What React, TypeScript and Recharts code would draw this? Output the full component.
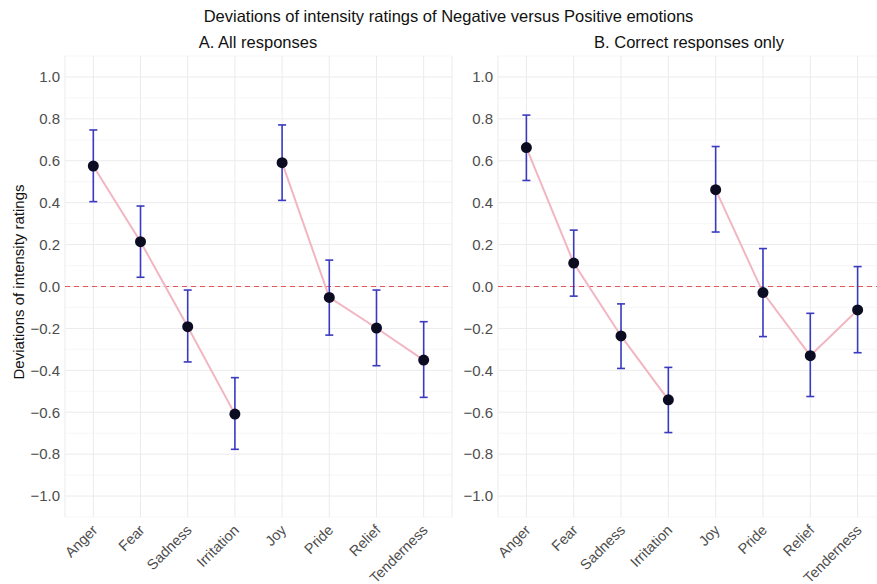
import React from 'react';
import { LineChart, Line, XAxis, YAxis, CartesianGrid, ReferenceLine, ErrorBar } from 'recharts';

const emotions = ['Anger', 'Fear', 'Sadness', 'Irritation', 'Joy', 'Pride', 'Relief', 'Tenderness'];
const negativeEmotions = ['Anger', 'Fear', 'Sadness', 'Irritation'];

// A. All responses
const allMean = [0.575, 0.214, -0.192, -0.609, 0.591, -0.052, -0.198, -0.351];
const allLower = [0.405, 0.044, -0.36, -0.777, 0.411, -0.232, -0.378, -0.529];
const allUpper = [0.747, 0.384, -0.017, -0.435, 0.771, 0.126, -0.017, -0.168];

// B. Correct responses only
const correctMean = [0.663, 0.112, -0.236, -0.541, 0.462, -0.029, -0.33, -0.112];
const correctLower = [0.506, -0.046, -0.391, -0.697, 0.26, -0.239, -0.525, -0.316];
const correctUpper = [0.818, 0.269, -0.083, -0.386, 0.668, 0.181, -0.128, 0.095];

const yTicks = [-1, -0.8, -0.6, -0.4, -0.2, 0, 0.2, 0.4, 0.6, 0.8, 1];
const yMinor = [-1.1, -0.9, -0.7, -0.5, -0.3, -0.1, 0.1, 0.3, 0.5, 0.7, 0.9, 1.1];
const xTicks = [1, 2, 3, 4, 5, 6, 7, 8];

const FONT = '"Liberation Sans", Arial, sans-serif';
const TICK_COLOR = '#4d4d4d';

const fmtY = (v: number) => {
  const s = Math.abs(v).toFixed(1);
  return v < -0.0001 ? '\u2212' + s : s;
};

const XTick = (props: any) => {
  const { x, y, payload } = props;
  const ax = x + 5;
  const ay = y + 14;
  return (
    <text
      x={ax}
      y={ay}
      textAnchor="end"
      transform={`rotate(-45, ${ax}, ${ay})`}
      fill={TICK_COLOR}
      fontSize={14.5}
      fontFamily={FONT}
    >
      {emotions[payload.value - 1]}
    </text>
  );
};

type PanelProps = {
  mean: number[];
  lower: number[];
  upper: number[];
  width: number;
  marginLeft: number;
  marginRight: number;
};

function Panel({ mean, lower, upper, width, marginLeft, marginRight }: PanelProps) {
  const rows = emotions.map((e, i) => ({
    x: i + 1,
    name: e,
    v: mean[i],
    err: [mean[i] - lower[i], upper[i] - mean[i]],
  }));
  const neg = rows.filter((r) => negativeEmotions.includes(r.name));
  const pos = rows.filter((r) => !negativeEmotions.includes(r.name));
  const dot = { r: 5.5, fill: '#0b0b22', stroke: '#0b0b22', strokeWidth: 0 };
  return (
    <LineChart
      width={width}
      height={584}
      margin={{ top: 56, right: marginRight, bottom: 0, left: marginLeft }}
      style={{ fontFamily: FONT }}
    >
      <CartesianGrid
        horizontalValues={yMinor}
        vertical={false}
        stroke="#f3f3f3"
        strokeWidth={0.7}
      />
      <CartesianGrid horizontalValues={yTicks} stroke="#ebebee" strokeWidth={1} />
      <XAxis
        type="number"
        dataKey="x"
        domain={[0.4, 8.6]}
        ticks={xTicks}
        interval={0}
        axisLine={false}
        tickLine={false}
        tickSize={0}
        tickMargin={0}
        height={67}
        tick={<XTick />}
        allowDataOverflow
      />
      <YAxis
        type="number"
        domain={[-1.1, 1.1]}
        ticks={yTicks}
        interval={0}
        axisLine={false}
        tickLine={false}
        tickSize={0}
        tickMargin={5}
        width={55}
        tick={{ fill: TICK_COLOR, fontSize: 15, fontFamily: FONT }}
        tickFormatter={fmtY}
        allowDataOverflow
      />
      <ReferenceLine y={0} stroke="#e05a5a" strokeWidth={1.2} strokeDasharray="5 4" />
      <Line
        data={neg}
        dataKey="v"
        type="linear"
        stroke="#f2b6c3"
        strokeWidth={2}
        dot={dot}
        activeDot={false}
        isAnimationActive={false}
      >
        <ErrorBar dataKey="err" direction="y" width={4} stroke="#3a3ac0" strokeWidth={1.6} />
      </Line>
      <Line
        data={pos}
        dataKey="v"
        type="linear"
        stroke="#f2b6c3"
        strokeWidth={2}
        dot={dot}
        activeDot={false}
        isAnimationActive={false}
      >
        <ErrorBar dataKey="err" direction="y" width={4} stroke="#3a3ac0" strokeWidth={1.6} />
      </Line>
    </LineChart>
  );
}

export default function App() {
  return (
    <div
      style={{
        position: 'absolute',
        top: 0,
        left: 0,
        width: 877,
        height: 584,
        overflow: 'hidden',
        background: '#ffffff',
        fontFamily: FONT,
      }}
    >
      <div style={{ position: 'absolute', left: 0, top: 0 }}>
        <Panel mean={allMean} lower={allLower} upper={allUpper} width={460} marginLeft={10} marginRight={8} />
      </div>
      <div style={{ position: 'absolute', left: 440, top: 0 }}>
        <Panel
          mean={correctMean}
          lower={correctLower}
          upper={correctUpper}
          width={450}
          marginLeft={3}
          marginRight={4}
        />
      </div>
      <svg
        width={877}
        height={584}
        style={{ position: 'absolute', left: 0, top: 0, pointerEvents: 'none' }}
      >
        <text x={448.5} y={22} textAnchor="middle" fontSize={16.5} fill="#111" fontFamily={FONT}>
          Deviations of intensity ratings of Negative versus Positive emotions
        </text>
        <text x={258} y={48} textAnchor="middle" fontSize={16.5} fill="#111" fontFamily={FONT}>
          A. All responses
        </text>
        <text x={689} y={48} textAnchor="middle" fontSize={16.5} fill="#111" fontFamily={FONT}>
          B. Correct responses only
        </text>
        <text
          x={24}
          y={282}
          textAnchor="middle"
          transform="rotate(-90, 24, 282)"
          fontSize={15}
          fill="#111"
          fontFamily={FONT}
        >
          Deviations of intensity ratings
        </text>
      </svg>
    </div>
  );
}
